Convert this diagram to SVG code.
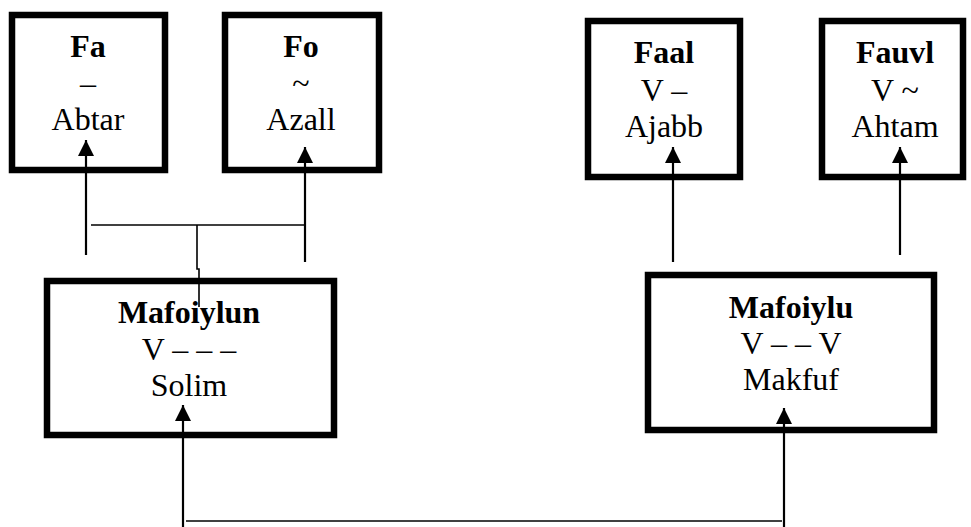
<svg xmlns="http://www.w3.org/2000/svg" width="971" height="527" viewBox="0 0 971 527">
<defs>
<style>
.box{fill:#fff;stroke:#000;stroke-width:6.5}
.t{font-family:"Liberation Serif","Times New Roman",serif;font-size:32px;fill:#000;text-anchor:middle}
.b{font-weight:bold}
.ln{fill:none;stroke:#000;stroke-width:2.2}
.thin{fill:none;stroke:#000;stroke-width:1.6}
</style>
<marker id="ah" markerUnits="userSpaceOnUse" markerWidth="17" markerHeight="16" refX="16" refY="8" orient="auto" viewBox="0 0 17 16">
<path d="M0,0 L16,8 L0,16 z" fill="#000"/>
</marker>
</defs>
<rect width="971" height="527" fill="#fff"/>
<g id="node-fa">
<rect class="box" x="12" y="15" width="153" height="155"/>
<text class="t b" x="88" y="57">Fa</text>
<text class="t" x="88" y="94">–</text>
<text class="t" x="88" y="130">Abtar</text>
</g>
<g id="node-fo">
<rect class="box" x="225" y="15" width="154" height="155"/>
<text class="t b" x="301" y="57">Fo</text>
<text class="t" x="301" y="94">~</text>
<text class="t" x="301" y="130">Azall</text>
</g>
<g id="node-faal">
<rect class="box" x="588" y="21" width="152" height="156"/>
<text class="t b" x="664" y="63">Faal</text>
<text class="t" x="664" y="101">V –</text>
<text class="t" x="664" y="137">Ajabb</text>
</g>
<g id="node-fauvl">
<rect class="box" x="822" y="21" width="141" height="156"/>
<text class="t b" x="895" y="63">Fauvl</text>
<text class="t" x="895" y="101">V ~</text>
<text class="t" x="895" y="137">Ahtam</text>
</g>
<g id="node-mafoiylun">
<rect class="box" x="47" y="281" width="287" height="154"/>
<text class="t b" x="189" y="323">Mafoiylun</text>
<text class="t" x="189" y="360">V – – –</text>
<text class="t" x="189" y="396">Solim</text>
</g>
<g id="node-mafoiylu">
<rect class="box" x="648" y="275" width="286" height="155"/>
<text class="t b" x="791" y="318">Mafoiylu</text>
<text class="t" x="791" y="354">V – – V</text>
<text class="t" x="791" y="390">Makfuf</text>
</g>
<g id="connectors">
<line class="ln" x1="86" y1="255" x2="86" y2="140" marker-end="url(#ah)"/>
<line class="ln" x1="305" y1="262" x2="305" y2="147" marker-end="url(#ah)"/>
<line class="thin" x1="91" y1="225" x2="305" y2="225"/>
<path class="thin" d="M197,225 V269 H199 V307"/>
<line class="ln" x1="673" y1="262" x2="673" y2="147" marker-end="url(#ah)"/>
<line class="ln" x1="900" y1="255" x2="900" y2="147" marker-end="url(#ah)"/>
<line class="ln" x1="183" y1="527" x2="183" y2="405" marker-end="url(#ah)"/>
<line class="ln" x1="784" y1="527" x2="784" y2="408" marker-end="url(#ah)"/>
<line class="thin" x1="186" y1="521" x2="782" y2="521"/>
</g>
</svg>
